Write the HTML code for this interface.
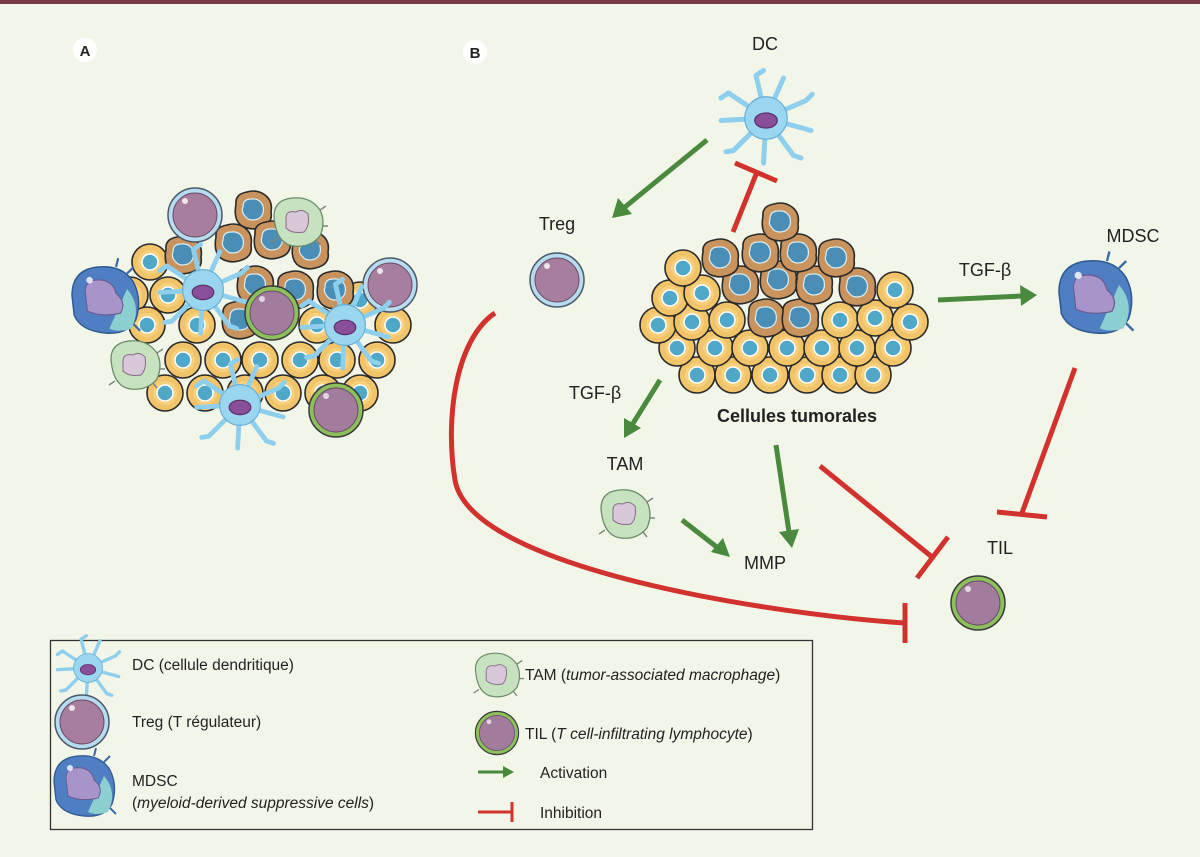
<!DOCTYPE html>
<html><head><meta charset="utf-8"><style>
html,body{margin:0;padding:0;}
body{width:1200px;height:852px;background:#f2f6e9;overflow:hidden;}
svg text{font-family:"Liberation Sans",sans-serif;fill:#222;}
</style></head><body>
<svg width="1200" height="852" viewBox="0 0 1200 852" xmlns="http://www.w3.org/2000/svg">
<defs>
<g id="yc"><circle r="18" fill="#f2c46a" stroke="#2a2a2a" stroke-width="1.6"/><circle r="12" fill="#f8d888" opacity="0.6"/><circle r="8" fill="#4fa8c8" stroke="#fff" stroke-width="1.5"/></g>
<g id="bc"><path d="M-17,-6 Q-18,-16 -6,-18 Q4,-21 12,-15 Q20,-9 18,2 Q20,13 9,17 Q-2,21 -11,16 Q-20,10 -17,-6Z" fill="#c9935e" stroke="#2a2a2a" stroke-width="1.6"/><path d="M-10,-3 Q-10,-11 -2,-11 Q7,-12 10,-4 Q12,5 5,9 Q-4,12 -8,6 Q-12,2 -10,-3Z" fill="#4a8eb6" stroke="#d8eef5" stroke-width="1.2"/></g>
<g id="treg"><circle r="27" fill="#b7dcef" stroke="#4a5a6a" stroke-width="1.5"/><circle r="22" fill="#a77e9d" stroke="#6c4d6a" stroke-width="1"/><circle cx="-10" cy="-14" r="3" fill="#fff" opacity="0.8"/></g>
<g id="til"><circle r="27" fill="#8cc05a" stroke="#3a3a3a" stroke-width="1.5"/><circle r="22" fill="#a27c9c" stroke="#6c4d6a" stroke-width="1"/><circle cx="-10" cy="-14" r="3" fill="#fff" opacity="0.7"/></g>
<g id="dc"><g stroke="#8fcfee" stroke-width="4" stroke-linecap="round" fill="none"><path d="M0,0 L-30,-20"/><path d="M0,0 L-8,-34"/><path d="M0,0 L14,-32"/><path d="M0,0 L32,-14"/><path d="M0,0 L36,10"/><path d="M0,0 L22,30"/><path d="M0,0 L-2,36"/><path d="M0,0 L-26,26"/><path d="M0,0 L-36,2"/><path d="M-30,-20 l-6,4 M-8,-34 l6,-4 M32,-14 l5,-5 M22,30 l6,2 M-26,26 l-6,1"/></g><circle r="17" fill="#9ad6f0" stroke="#6ab0d6" stroke-width="1"/><ellipse cx="0" cy="2" rx="9" ry="6" fill="#8a4f9a" stroke="#5a3068"/></g>
<g id="tam"><path d="M-24,-6 Q-24,-22 -6,-24 Q12,-26 22,-12 Q28,0 22,14 Q12,26 -4,24 Q-22,22 -24,-6Z" fill="#c7e2bf" stroke="#6a8a6a" stroke-width="1.3"/><path d="M-12,-4 Q-12,-12 -2,-10 Q4,-14 10,-8 Q12,4 6,10 Q-6,12 -12,6Z" fill="#d9c7da" stroke="#8a6a8a"/><path d="M22,-12 l6,-4 M24,4 l6,0 M18,18 l4,5 M-20,16 l-6,4" stroke="#7a8a7a" stroke-width="1.5"/></g>
<g id="mdsc"><path d="M-30,-4 Q-30,-28 -6,-30 Q16,-32 26,-16 Q34,0 28,18 Q20,32 0,30 Q-22,28 -28,14Z" fill="#4f7fc2" stroke="#2f5a90" stroke-width="1.3"/><path d="M20,-10 Q34,6 24,26 Q12,30 4,26Z" fill="#8ccfd0"/><path d="M-18,-8 Q-18,-20 -2,-18 Q8,-16 10,-6 Q20,2 14,12 Q-4,16 -16,10Z" fill="#a794cb" stroke="#6a5a90"/><circle cx="-14" cy="-18" r="3" fill="#fff" opacity="0.8"/><path d="M10,-30 l2,-8 M20,-24 l6,-6 M26,22 l6,6" stroke="#3a6aa8" stroke-width="2"/></g>
</defs>
<rect x="0" y="0" width="1200" height="4" fill="#7a3a44"/>

<!-- Panel A -->
<circle cx="85" cy="50" r="12" fill="#fff"/><text x="85" y="56" font-size="15" font-weight="bold" text-anchor="middle">A</text>
<g>
<use href="#yc" x="150" y="262"/><use href="#yc" x="130" y="295"/><use href="#yc" x="168" y="295"/>
<use href="#yc" x="147" y="325"/><use href="#yc" x="197" y="325"/><use href="#yc" x="317" y="325"/><use href="#yc" x="393" y="325"/><use href="#yc" x="360" y="300"/>
<use href="#yc" x="183" y="360"/><use href="#yc" x="223" y="360"/><use href="#yc" x="260" y="360"/><use href="#yc" x="300" y="360"/><use href="#yc" x="337" y="360"/><use href="#yc" x="377" y="360"/>
<use href="#yc" x="165" y="393"/><use href="#yc" x="205" y="393"/><use href="#yc" x="245" y="393"/><use href="#yc" x="283" y="393"/><use href="#yc" x="323" y="393"/><use href="#yc" x="360" y="393"/>
<use href="#bc" x="253" y="210"/><use href="#bc" x="233" y="243"/><use href="#bc" x="183" y="255"/><use href="#bc" x="272" y="240"/><use href="#bc" x="310" y="250"/><use href="#bc" x="255" y="285"/><use href="#bc" x="295" y="290"/><use href="#bc" x="335" y="290"/><use href="#bc" x="240" y="320"/>
<use href="#treg" x="195" y="215"/><use href="#treg" x="390" y="285"/>
<use href="#tam" x="298" y="222"/><use href="#tam" x="135" y="365"/>
<g transform="translate(203,290) scale(1.2)"><use href="#dc"/></g>
<g transform="translate(345,325) scale(1.2)"><use href="#dc"/></g>
<g transform="translate(240,405) scale(1.2)"><use href="#dc"/></g>
<use href="#til" x="272" y="313"/><use href="#til" x="336" y="410"/>
<g transform="translate(105,300) scale(1.1)"><use href="#mdsc"/></g>
</g>

<!-- Panel B -->
<circle cx="475" cy="52" r="12" fill="#fff"/><text x="475" y="58" font-size="15" font-weight="bold" text-anchor="middle">B</text>
<g>
<use href="#yc" x="697" y="375"/><use href="#yc" x="733" y="375"/><use href="#yc" x="770" y="375"/><use href="#yc" x="807" y="375"/><use href="#yc" x="840" y="375"/><use href="#yc" x="873" y="375"/>
<use href="#yc" x="677" y="348"/><use href="#yc" x="715" y="348"/><use href="#yc" x="750" y="348"/><use href="#yc" x="787" y="348"/><use href="#yc" x="822" y="348"/><use href="#yc" x="857" y="348"/><use href="#yc" x="893" y="348"/>
<use href="#yc" x="658" y="325"/><use href="#yc" x="692" y="322"/><use href="#yc" x="727" y="320"/><use href="#yc" x="840" y="320"/><use href="#yc" x="875" y="318"/><use href="#yc" x="910" y="322"/>
<use href="#yc" x="670" y="298"/><use href="#yc" x="702" y="293"/><use href="#yc" x="895" y="290"/><use href="#yc" x="683" y="268"/>
<use href="#bc" x="766" y="318"/><use href="#bc" x="800" y="318"/>
<use href="#bc" x="740" y="285"/><use href="#bc" x="778" y="280"/><use href="#bc" x="814" y="285"/><use href="#bc" x="857" y="287"/>
<use href="#bc" x="720" y="258"/><use href="#bc" x="760" y="253"/><use href="#bc" x="798" y="253"/><use href="#bc" x="836" y="258"/>
<use href="#bc" x="780" y="222"/>
</g>
<g transform="translate(766,118) scale(1.25)"><use href="#dc"/></g>
<use href="#treg" x="557" y="280"/>
<g transform="translate(1095,297) scale(1.2)"><use href="#mdsc"/></g>
<use href="#tam" x="625" y="514"/>
<use href="#til" x="978" y="603"/>

<g font-size="18">
<text x="765" y="50" text-anchor="middle">DC</text>
<text x="557" y="230" text-anchor="middle">Treg</text>
<text x="1133" y="242" text-anchor="middle">MDSC</text>
<text x="985" y="276" text-anchor="middle">TGF-β</text>
<text x="595" y="399" text-anchor="middle">TGF-β</text>
<text x="797" y="422" text-anchor="middle" font-weight="bold">Cellules tumorales</text>
<text x="625" y="470" text-anchor="middle">TAM</text>
<text x="765" y="569" text-anchor="middle">MMP</text>
<text x="1000" y="554" text-anchor="middle">TIL</text>
</g>

<g stroke="#4a8a3e" stroke-width="5" fill="#4a8a3e">
<line x1="707" y1="140" x2="625" y2="207"/><polygon points="612,218 618,198 632,214" stroke="none"/>
<line x1="938" y1="300" x2="1022" y2="296"/><polygon points="1037,295 1020,285 1021,306" stroke="none"/>
<line x1="660" y1="380" x2="632" y2="425"/><polygon points="624,438 624,418 641,428" stroke="none"/>
<line x1="682" y1="520" x2="718" y2="548"/><polygon points="730,557 711,552 723,538" stroke="none"/>
<line x1="776" y1="445" x2="789" y2="532"/><polygon points="792,548 779,532 799,529" stroke="none"/>
</g>
<g stroke="#d2322d" stroke-width="5" fill="none">
<line x1="733" y1="232" x2="757" y2="172"/><line x1="735" y1="163" x2="777" y2="181"/>
<line x1="1075" y1="368" x2="1022" y2="513"/><line x1="997" y1="512" x2="1047" y2="517"/>
<line x1="820" y1="466" x2="932" y2="557"/><line x1="917" y1="578" x2="948" y2="537"/>
<path d="M495,313 C455,340 445,420 455,480 C470,570 780,615 905,623"/><line x1="905" y1="603" x2="905" y2="643"/>
</g>

<rect x="50.5" y="640.5" width="762" height="189" fill="none" stroke="#333" stroke-width="1.3"/>
<g transform="translate(88,668) scale(0.85)"><use href="#dc"/></g>
<use href="#treg" x="82" y="722"/>
<use href="#mdsc" x="84" y="786"/>
<g transform="translate(497,675) scale(0.9)"><use href="#tam"/></g>
<g transform="translate(497,733) scale(0.8)"><use href="#til"/></g>
<g font-size="15.5">
<text x="132" y="670">DC (cellule dendritique)</text>
<text x="132" y="727">Treg (T régulateur)</text>
<text x="132" y="786">MDSC</text>
<text x="132" y="808">(<tspan font-style="italic">myeloid-derived suppressive cells</tspan>)</text>
<text x="525" y="680">TAM (<tspan font-style="italic">tumor-associated macrophage</tspan>)</text>
<text x="525" y="739">TIL (<tspan font-style="italic">T cell-infiltrating lymphocyte</tspan>)</text>
<text x="540" y="778">Activation</text>
<text x="540" y="818">Inhibition</text>
</g>
<line x1="478" y1="772" x2="505" y2="772" stroke="#4a8a3e" stroke-width="3"/><polygon points="514,772 503,766 503,778" fill="#4a8a3e"/>
<line x1="478" y1="812" x2="512" y2="812" stroke="#d2322d" stroke-width="3"/><line x1="512" y1="802" x2="512" y2="822" stroke="#d2322d" stroke-width="3"/>
</svg>
</body></html>
